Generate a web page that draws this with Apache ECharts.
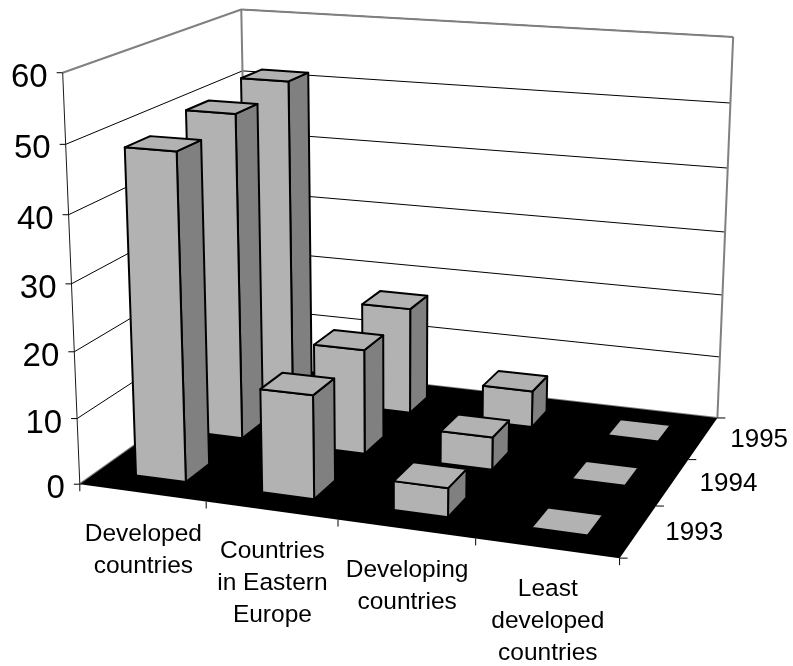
<!DOCTYPE html>
<html>
<head>
<meta charset="utf-8">
<style>html,body{margin:0;padding:0;background:#fff}#chart{width:793px;height:666px}</style>
<script src="https://cdn.jsdelivr.net/npm/echarts@6/dist/echarts.min.js"></script>
</head>
<body>
<div id="chart"></div>
<script>
const categories = [['Developed', 'countries'], ['Countries', 'in Eastern', 'Europe'], ['Developing', 'countries'], ['Least', 'developed', 'countries']];
const years = ['1993', '1994', '1995'];
const valueTicks = [0, 10, 20, 30, 40, 50, 60];
const values1993 = [48.8, 15.5, 4.3, 0.1];
const values1994 = [50.3, 16.2, 5, 0.1];
const values1995 = [51.6, 17, 5.8, 0.1];
const seriesValues = [values1993, values1994, values1995];

// Camera calibration: unit box corner -> screen position.
const boxCorners = [
  [0, 0, 0, 81, 485], [1, 0, 0, 619, 558], [1, 1, 0, 718, 418], [0, 1, 0, 247, 364],
  [0, 0, 1, 62, 72], [0, 1, 1, 242, 10], [1, 1, 1, 733, 37]
];

function solveCamera(points) {
  const n = 11;
  const A = Array.from({length: n}, () => new Array(n + 1).fill(0));
  const add = (row, rhs) => {
    for (let i = 0; i < n; i++) {
      for (let j = 0; j < n; j++) A[i][j] += row[i] * row[j];
      A[i][n] += row[i] * rhs;
    }
  };
  points.forEach(([X, Y, Z, x, y]) => {
    add([X, Y, Z, 1, 0, 0, 0, 0, -x * X, -x * Y, -x * Z], x);
    add([0, 0, 0, 0, X, Y, Z, 1, -y * X, -y * Y, -y * Z], y);
  });
  for (let c = 0; c < n; c++) {
    let best = c;
    for (let r = c + 1; r < n; r++) if (Math.abs(A[r][c]) > Math.abs(A[best][c])) best = r;
    [A[c], A[best]] = [A[best], A[c]];
    for (let r = 0; r < n; r++) {
      if (r === c) continue;
      const f = A[r][c] / A[c][c];
      for (let k = c; k <= n; k++) A[r][k] -= f * A[c][k];
    }
  }
  return A.map((row, i) => row[n] / row[i]);
}
const cam = solveCamera(boxCorners);
function project(X, Y, Z) {
  const w = cam[8] * X + cam[9] * Y + cam[10] * Z + 1;
  return [
    (cam[0] * X + cam[1] * Y + cam[2] * Z + cam[3]) / w,
    (cam[4] * X + cam[5] * Y + cam[6] * Z + cam[7]) / w
  ];
}

// Turns (category position, year position, value) into a screen point,
// reading the first and last through the chart's own axes.
function projector(params, api) {
  const r = params.coordSys;
  return (u, v, val) => {
    const c = api.coord([u, val]);
    return project((c[0] - r.x) / r.width, v / years.length, (r.y + r.height - c[1]) / r.height);
  };
}

const FONT = '"Liberation Sans", Arial, sans-serif';
const poly = (points, fill, stroke, lineWidth) => ({
  type: 'polygon',
  shape: {points},
  style: {fill: fill, stroke: stroke || null, lineWidth: lineWidth || 0, lineJoin: 'round'}
});
const line = (a, b, stroke, lineWidth) => ({
  type: 'line',
  shape: {x1: a[0], y1: a[1], x2: b[0], y2: b[1]},
  style: {stroke: stroke, lineWidth: lineWidth}
});
const text = (x, y, str, size, align, vAlign) => ({
  type: 'text',
  style: {x: x, y: y, text: str, fontFamily: FONT, fontSize: size, fill: '#000', align: align, verticalAlign: vAlign || 'middle'}
});

function renderFrame(params, api) {
  const at = projector(params, api);
  const nc = categories.length, ny = years.length, top = 60;
  const kids = [];
  const wallEdge = '#808080';

  // Gridlines on the side and back walls
  valueTicks.filter(t => t > 0).forEach(t => {
    const isTop = t === top;
    if (!isTop) kids.push(line(at(0, 0, t), at(0, ny, t), '#000', 1));
    kids.push(line(at(0, ny, t), at(nc, ny, t), '#000', 1));
  });
  // Wall outlines
  kids.push(line(at(0, 0, top), at(0, ny, top), wallEdge, 2));
  kids.push(line(at(0, ny, top), at(nc, ny, top), wallEdge, 2));
  kids.push(line(at(0, ny, 0), at(0, ny, top), wallEdge, 2));
  kids.push(line(at(nc, ny, 0), at(nc, ny, top), wallEdge, 2));
  kids.push(line(at(0, 0, 0), at(0, ny, 0), wallEdge, 2));
  kids.push(line(at(0, ny, 0), at(nc, ny, 0), wallEdge, 2));

  // Floor
  kids.push(poly([at(0, 0, 0), at(nc, 0, 0), at(nc, ny, 0), at(0, ny, 0)], '#000'));

  // Value axis
  kids.push(line(at(0, 0, 0), at(0, 0, top), '#1a1a1a', 1));
  valueTicks.forEach(t => {
    const p = at(0, 0, t);
    kids.push(line([p[0] - 6, p[1]], p, '#000', 1));
    kids.push(text(p[0] - 15, p[1] + 5, String(t), 33, 'right'));
  });

  // Category axis
  for (let i = 0; i <= nc; i++) {
    const p = at(i, 0, 0);
    kids.push(line(p, [p[0], p[1] + 7], '#000', 1));
  }
  categories.forEach((lines, i) => {
    const p = at(i + 0.5, 0, 0);
    lines.forEach((s, k) => kids.push(text(p[0] + 1, p[1] + 41 + k * 32, s, 24.5, 'center')));
  });

  // Year axis
  for (let j = 0; j <= ny; j++) {
    const p = at(nc, j, 0);
    kids.push(line(p, [p[0] + 8, p[1]], '#000', 1));
  }
  years.forEach((s, j) => {
    const p = at(nc, j + 0.5, 0);
    kids.push(text(p[0] + 27, p[1] + 2, s, 26, 'left'));
  });
  return {type: 'group', children: kids};
}

const BAR_INSET = 0.3;
function renderBar(yearIndex) {
  return (params, api) => {
    const at = projector(params, api);
    const c = api.value(0), val = api.value(1);
    const u0 = c + BAR_INSET, u1 = c + 1 - BAR_INSET;
    const v0 = yearIndex + BAR_INSET, v1 = yearIndex + 1 - BAR_INSET;
    const stroke = {c: '#000', w: 2};
    return {
      type: 'group',
      children: [
        poly([at(u1, v0, 0), at(u1, v1, 0), at(u1, v1, val), at(u1, v0, val)], '#808080', stroke.c, stroke.w),
        poly([at(u0, v0, 0), at(u1, v0, 0), at(u1, v0, val), at(u0, v0, val)], '#b2b2b2', stroke.c, stroke.w),
        poly([at(u0, v0, val), at(u1, v0, val), at(u1, v1, val), at(u0, v1, val)], '#b2b2b2', stroke.c, stroke.w)
      ]
    };
  };
}

// Rows are painted from the back of the box to the front.
const barSeries = years.map((name, j) => ({
  name: name,
  type: 'custom',
  coordinateSystem: 'cartesian2d',
  z: 10 + (years.length - j),
  encode: {x: 0, y: 1},
  renderItem: renderBar(j),
  data: seriesValues[j].map((v, i) => [i, v])
}));

const chart = echarts.init(document.getElementById('chart'), null, {renderer: 'canvas'});
chart.setOption({
  animation: false,
  backgroundColor: '#fff',
  grid: {left: 0, right: 0, top: 0, bottom: 0},
  xAxis: {type: 'value', min: 0, max: categories.length, show: false},
  yAxis: {type: 'value', min: 0, max: 60, show: false},
  series: [{
    type: 'custom',
    coordinateSystem: 'cartesian2d',
    z: 1,
    silent: true,
    renderItem: renderFrame,
    clip: false,
    data: [[0, 0]]
  }].concat(barSeries)
});
</script>
</body>
</html>
